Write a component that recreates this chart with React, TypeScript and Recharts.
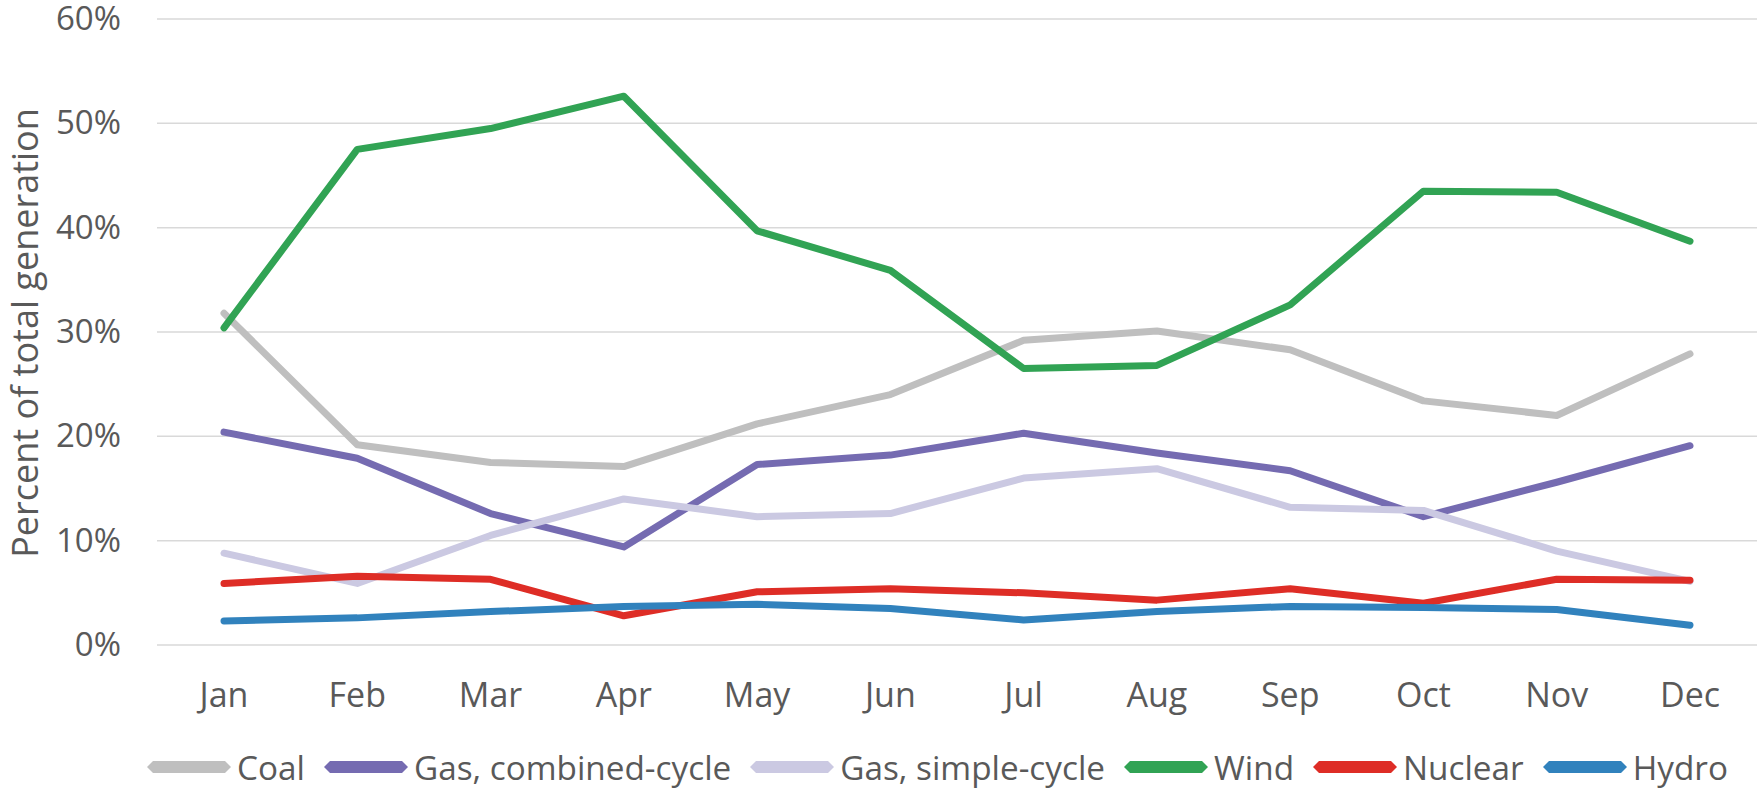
import React from 'react';
import { LineChart, Line, XAxis, YAxis, CartesianGrid } from 'recharts';

const months = ['Jan', 'Feb', 'Mar', 'Apr', 'May', 'Jun', 'Jul', 'Aug', 'Sep', 'Oct', 'Nov', 'Dec'];

// percent of total generation
const coal = [31.8, 19.2, 17.5, 17.1, 21.2, 24.0, 29.2, 30.1, 28.3, 23.4, 22.0, 27.9];
const gasCombined = [20.4, 17.9, 12.6, 9.4, 17.3, 18.2, 20.3, 18.4, 16.7, 12.3, 15.6, 19.1];
const gasSimple = [8.8, 5.9, 10.5, 14.0, 12.3, 12.6, 16.0, 16.9, 13.2, 12.9, 9.0, 6.1];
const wind = [30.4, 47.5, 49.5, 52.6, 39.7, 35.9, 26.5, 26.8, 32.6, 43.5, 43.4, 38.7];
const nuclear = [5.9, 6.6, 6.3, 2.8, 5.1, 5.4, 5.0, 4.3, 5.4, 4.0, 6.3, 6.2];
const hydro = [2.3, 2.6, 3.2, 3.7, 3.9, 3.5, 2.4, 3.2, 3.7, 3.6, 3.4, 1.9];

const yTicks = [0, 10, 20, 30, 40, 50, 60];

const series = [
  { key: 'coal', name: 'Coal', color: '#bfbfbf', values: coal },
  { key: 'gasCombined', name: 'Gas, combined-cycle', color: '#756bb1', values: gasCombined },
  { key: 'gasSimple', name: 'Gas, simple-cycle', color: '#cbc9e2', values: gasSimple },
  { key: 'wind', name: 'Wind', color: '#31a354', values: wind },
  { key: 'nuclear', name: 'Nuclear', color: '#de2d26', values: nuclear },
  { key: 'hydro', name: 'Hydro', color: '#3182bd', values: hydro },
];

const data = months.map((m, i) => {
  const row: Record<string, any> = { month: m };
  series.forEach(s => { row[s.key] = s.values[i]; });
  return row;
});

const FONT = '"Open Sans", "Noto Sans", sans-serif';
const TEXT = '#595959';

const YTick = (props: any) => {
  const { y, payload } = props;
  return (
    <text x={121} y={y} dy={11} textAnchor="end" fill={TEXT} fontSize={33} fontFamily={FONT}>
      {payload.value}%
    </text>
  );
};

const XTick = (props: any) => {
  const { x, payload } = props;
  return (
    <text x={x} y={707} textAnchor="middle" fill={TEXT} fontSize={34} fontFamily={FONT}>
      {payload.value}
    </text>
  );
};

const LegendIcon = ({ color }: { color: string }) => (
  <svg width={86} height={14} style={{ display: 'block' }}>
    <path d="M1,7 L7,1 L79,1 L85,7 L79,13 L7,13 Z" fill={color} />
  </svg>
);

export default function App() {
  return (
    <div style={{ position: 'relative', width: 1758, height: 789, background: '#fff' }}>
      <style>{'body{margin:0}'}</style>
      <LineChart width={1758} height={789} data={data} margin={{ top: 19, right: 1, bottom: 84, left: 0 }}>
        <CartesianGrid vertical={false} stroke="#d9d9d9" strokeWidth={1.5} />
        <XAxis
          dataKey="month"
          axisLine={false}
          tickLine={false}
          interval={0}
          height={60}
          padding={{ left: 67, right: 67 }}
          tick={<XTick />}
        />
        <YAxis
          domain={[0, 60]}
          ticks={yTicks}
          axisLine={false}
          tickLine={false}
          width={157}
          tick={<YTick />}
        />
        {series.map(s => (
          <Line
            key={s.key}
            type="linear"
            dataKey={s.key}
            name={s.name}
            stroke={s.color}
            strokeWidth={7}
            strokeLinecap="round"
            strokeLinejoin="round"
            dot={false}
            isAnimationActive={false}
          />
        ))}
      </LineChart>
      <div
        style={{
          position: 'absolute',
          left: 5,
          top: 106,
          width: 40,
          height: 454,
          display: 'flex',
          alignItems: 'center',
          justifyContent: 'center',
        }}
      >
        <div
          style={{
            transform: 'rotate(-90deg)',
            whiteSpace: 'nowrap',
            fontFamily: FONT,
            fontSize: 36,
            color: TEXT,
            lineHeight: 1,
          }}
        >
          Percent of total generation
        </div>
      </div>
      <div
        style={{
          position: 'absolute',
          left: 146,
          top: 747,
          display: 'flex',
          alignItems: 'center',
          fontFamily: FONT,
          fontSize: 33.3,
          color: TEXT,
          lineHeight: '40px',
          whiteSpace: 'nowrap',
        }}
      >
        {series.map(s => (
          <div key={s.key} style={{ display: 'flex', alignItems: 'center', marginRight: 18 }}>
            <LegendIcon color={s.color} />
            <span style={{ marginLeft: 5 }}>{s.name}</span>
          </div>
        ))}
      </div>
    </div>
  );
}
